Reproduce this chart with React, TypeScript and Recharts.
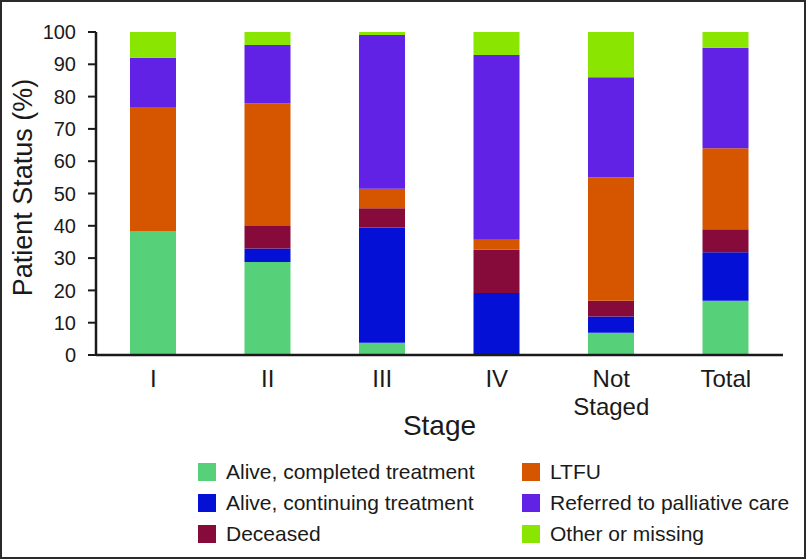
import React from 'react';
import { BarChart, Bar, XAxis, YAxis } from 'recharts';

const stages = ['I', 'II', 'III', 'IV', 'Not Staged', 'Total'];
const completed = [38.4, 28.8, 3.8, 0, 6.9, 16.8];
const continuing = [0, 4.2, 35.7, 19.2, 5.0, 15.0];
const deceased = [0, 6.9, 5.9, 13.4, 4.9, 7.1];
const ltfu = [38.4, 38.0, 6.1, 3.1, 38.2, 25.1];
const palliative = [15.2, 18.1, 47.6, 57.2, 31.0, 31.1];
const other = [8.0, 4.0, 0.9, 7.1, 14.0, 4.9];
const yTicks = [0, 10, 20, 30, 40, 50, 60, 70, 80, 90, 100];

const series = [
    { key: 'completed', name: 'Alive, completed treatment', color: '#56d17a', values: completed },
    { key: 'continuing', name: 'Alive, continuing treatment', color: '#0510d6', values: continuing },
    { key: 'deceased', name: 'Deceased', color: '#860b3a', values: deceased },
    { key: 'ltfu', name: 'LTFU', color: '#d65600', values: ltfu },
    { key: 'palliative', name: 'Referred to palliative care', color: '#6122e6', values: palliative },
    { key: 'other', name: 'Other or missing', color: '#8ae600', values: other },
];

const data = stages.map((stage, i) => {
    const row: Record<string, string | number> = { stage };
    series.forEach(s => { row[s.key] = s.values[i]; });
    return row;
});

const FONT = '"Liberation Sans", Arial, Helvetica, sans-serif';
const INK = '#1a1a1a';

const StageTick = ({ x, y, payload }: any) => {
    const lines = String(payload.value).split(' ');
    return (
        <text x={x} y={y + 30} textAnchor="middle" fontFamily={FONT} fontSize={24} fill={INK}>
            {lines.map((line, i) => (
                <tspan key={i} x={x} dy={i === 0 ? 0 : 28}>{line}</tspan>
            ))}
        </text>
    );
};

// legend: two columns of three, in stacking order
const legendCols = [series.slice(0, 3), series.slice(3, 6)];
const colLeft = [198, 522];
const rowTop = [463, 494, 525];

const App: React.FC = () => {
    return (
        <div style={{ position: 'absolute', left: 0, top: 0, width: 806, height: 559, background: '#fff', fontFamily: FONT }}>
            <BarChart
                width={806}
                height={559}
                data={data}
                margin={{ top: 32, right: 23, left: 0, bottom: 124 }}
            >
                <XAxis
                    dataKey="stage"
                    height={80}
                    tick={<StageTick />}
                    tickLine={false}
                    tickSize={0}
                    axisLine={{ stroke: INK, strokeWidth: 2.5 }}
                    interval={0}
                    label={{ value: 'Stage', position: 'insideBottom', offset: 0, fontSize: 28, fill: INK, fontFamily: FONT }}
                />
                <YAxis
                    width={96}
                    domain={[0, 100]}
                    ticks={yTicks}
                    interval={0}
                    tickSize={8}
                    tickMargin={12}
                    tickLine={{ stroke: INK, strokeWidth: 2 }}
                    axisLine={{ stroke: INK, strokeWidth: 2.5 }}
                    tick={{ fontSize: 20, fill: INK, fontFamily: FONT }}
                    label={{ value: 'Patient Status (%)', angle: -90, position: 'center', dx: -26, dy: -6, fontSize: 27, fill: INK, fontFamily: FONT }}
                />
                {series.map(s => (
                    <Bar key={s.key} dataKey={s.key} name={s.name} stackId="a" fill={s.color} barSize={46} isAnimationActive={false} />
                ))}
            </BarChart>

            {legendCols.map((col, ci) =>
                col.map((s, ri) => (
                    <div
                        key={s.key}
                        style={{ position: 'absolute', left: colLeft[ci], top: rowTop[ri], display: 'flex', alignItems: 'center', height: 18, whiteSpace: 'nowrap' }}
                    >
                        <span style={{ width: 18, height: 18, background: s.color, display: 'inline-block', marginRight: 10 }}></span>
                        <span style={{ fontSize: 21, color: INK, lineHeight: '18px' }}>{s.name}</span>
                    </div>
                ))
            )}

            <div style={{ position: 'absolute', left: 0, top: 0, width: 806, height: 559, boxSizing: 'border-box', border: '2px solid #2a2a2a', pointerEvents: 'none' }}></div>
        </div>
    );
};

export default App;
